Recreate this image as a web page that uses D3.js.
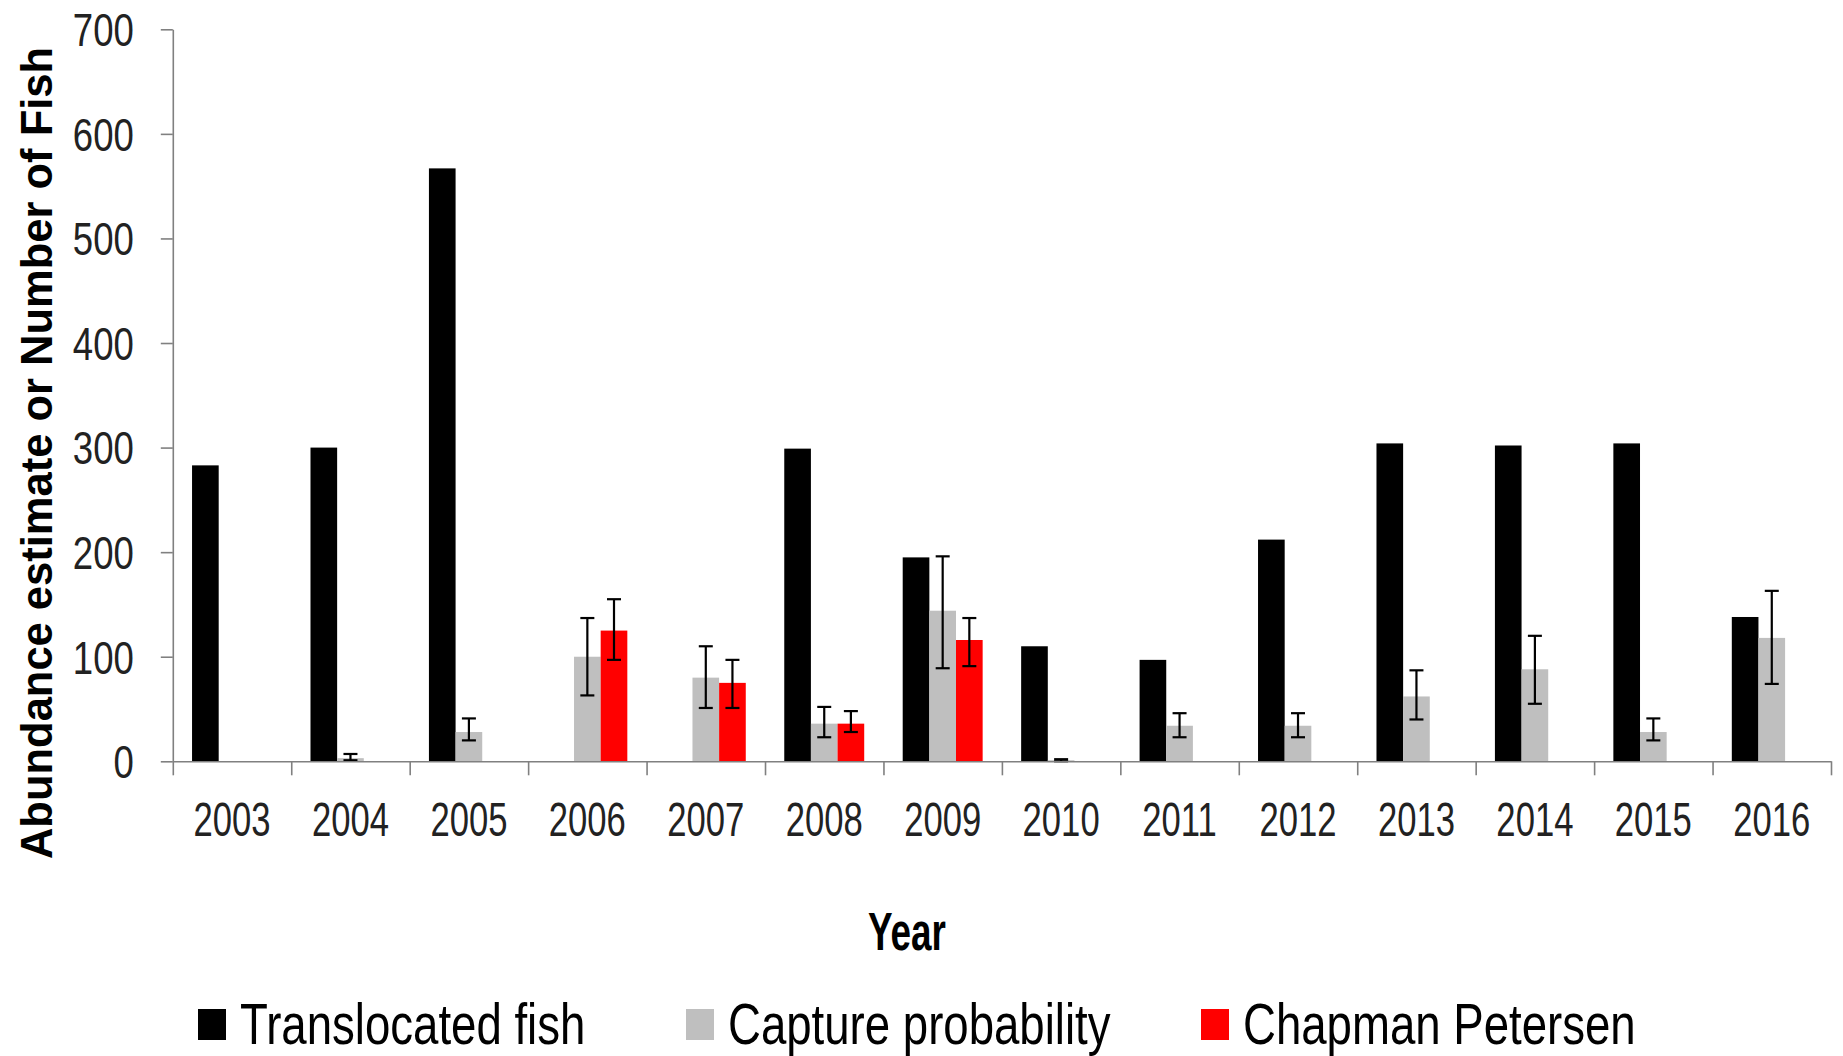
<!DOCTYPE html>
<html>
<head>
<meta charset="utf-8">
<script src="https://cdn.jsdelivr.net/npm/d3@7"></script>
<style>
  html, body { margin: 0; padding: 0; background: #fff; }
  svg { display: block; }
  text { font-family: "Liberation Sans", Arial, sans-serif; }
</style>
</head>
<body>
<svg id="chart" width="1843" height="1056"></svg>
<script>
// Years of the survey
const years = [2003, 2004, 2005, 2006, 2007, 2008, 2009, 2010, 2011, 2012, 2013, 2014, 2015, 2016];

// Number of fish translocated each year
const translocated = [283, 300, 567, null, null, 299, 195, 110, 97, 212, 304, 302, 304, 138];

// Abundance estimate from capture probability, with its confidence limits
const capture   = [null, 3, 28, 100, 80, 36, 144, 1, 34, 34, 62, 88, 28, 118];
const captureLo = [null, 1, 20, 63, 51, 23, 89, 0, 23, 23, 40, 55, 20, 74];
const captureHi = [null, 7, 41, 137, 110, 52, 196, 2, 46, 46, 87, 120, 41, 163];

// Chapman-Petersen abundance estimate, with its confidence limits
const chapman   = [null, null, null, 125, 75, 36, 116, null, null, null, null, null, null, null];
const chapmanLo = [null, null, null, 97, 51, 28, 91, null, null, null, null, null, null, null];
const chapmanHi = [null, null, null, 155, 97, 48, 137, null, null, null, null, null, null, null];

const yTicks = [0, 100, 200, 300, 400, 500, 600, 700];
const seriesNames = ["Translocated fish", "Capture probability", "Chapman Petersen"];
const seriesKeys = ["trans", "capture", "chapman"];
const colors = { trans: "#000000", capture: "#bfbfbf", chapman: "#ff0000" };

const svg = d3.select("#chart");

const plot = { left: 172.8, right: 1831, top: 29.3, bottom: 761.3 };

const x = d3.scaleBand().domain(years).range([plot.left, plot.right]).padding(0);
const step = x.step();
const gap = step * 0.1625;
const xs = d3.scaleBand().domain(seriesKeys).range([gap, step - gap]).padding(0);
const y = d3.scaleLinear().domain([0, 700]).range([plot.bottom, plot.top]);

// Rows of data per year and series
const rows = [];
years.forEach((yr, i) => {
  rows.push({ year: yr, key: "trans", v: translocated[i], lo: null, hi: null });
  rows.push({ year: yr, key: "capture", v: capture[i], lo: captureLo[i], hi: captureHi[i] });
  rows.push({ year: yr, key: "chapman", v: chapman[i], lo: chapmanLo[i], hi: chapmanHi[i] });
});
const present = rows.filter(d => d.v != null);

// Bars
svg.append("g").selectAll("rect")
  .data(present)
  .join("rect")
  .attr("x", d => x(d.year) + xs(d.key))
  .attr("width", xs.bandwidth())
  .attr("y", d => y(d.v))
  .attr("height", d => y(0) - y(d.v))
  .attr("fill", d => colors[d.key]);

// Error bars
const capHalf = 7;
const eb = svg.append("g").attr("stroke", "#000").attr("stroke-width", 2.2).attr("fill", "none")
  .selectAll("g").data(present.filter(d => d.lo != null)).join("g")
  .attr("transform", d => `translate(${x(d.year) + xs(d.key) + xs.bandwidth() / 2},0)`);
eb.append("line").attr("x1", 0).attr("x2", 0).attr("y1", d => y(d.lo)).attr("y2", d => y(d.hi));
eb.append("line").attr("x1", -capHalf).attr("x2", capHalf).attr("y1", d => y(d.lo)).attr("y2", d => y(d.lo));
eb.append("line").attr("x1", -capHalf).attr("x2", capHalf).attr("y1", d => y(d.hi)).attr("y2", d => y(d.hi));

// Y axis
const yAxis = svg.append("g")
  .attr("transform", `translate(${plot.left},0)`)
  .call(d3.axisLeft(y).tickValues(yTicks).tickSize(12).tickSizeOuter(0).tickFormat(d3.format("d")));
yAxis.selectAll("path, line").attr("stroke", "#808080").attr("stroke-width", 1.6);
yAxis.selectAll("text")
  .attr("x", null).attr("dy", null)
  .attr("transform", `translate(-39,${43 * 0.358 * 1.06}) scale(0.85,1.06)`)
  .attr("font-size", 43).attr("fill", "#222");

// X axis: boundary ticks between years
const xEdge = d3.scaleLinear().domain([0, years.length]).range([plot.left, plot.right]);
const xAxis = svg.append("g")
  .attr("transform", `translate(0,${plot.bottom})`)
  .call(d3.axisBottom(xEdge).tickValues(d3.range(years.length + 1)).tickSize(14).tickSizeOuter(0).tickFormat(""));
xAxis.selectAll("path, line").attr("stroke", "#808080").attr("stroke-width", 1.6);

// X axis: year labels centred in each band
const xLab = svg.append("g")
  .attr("transform", `translate(0,${plot.bottom})`)
  .call(d3.axisBottom(x).tickSize(0));
xLab.select(".domain").remove();
xLab.selectAll("text")
  .attr("y", null).attr("dy", null)
  .attr("transform", "translate(0,75) scale(0.825,1.15)")
  .attr("font-size", 42).attr("fill", "#222");

// Axis titles
svg.append("text")
  .attr("transform", "translate(907,950) scale(0.82,1.18)")
  .attr("text-anchor", "middle")
  .attr("font-size", 45).attr("font-weight", "bold").attr("fill", "#000")
  .text("Year");

svg.append("text")
  .attr("transform", "translate(52,453) rotate(-90)")
  .attr("text-anchor", "middle")
  .attr("font-size", 43.5).attr("font-weight", "bold").attr("fill", "#000")
  .text("Abundance estimate or Number of Fish");

// Legend
const legendX = [198, 686, 1201];
const lg = svg.append("g").selectAll("g").data(seriesKeys).join("g")
  .attr("transform", (d, i) => `translate(${legendX[i]},0)`);
lg.append("rect").attr("x", 0).attr("y", 1009).attr("width", 28).attr("height", 31)
  .attr("fill", d => colors[d]);
lg.append("text")
  .attr("transform", "translate(42,1044) scale(0.814,1.04)")
  .attr("font-size", 56).attr("fill", "#000")
  .text((d, i) => seriesNames[i]);
</script>
</body>
</html>
